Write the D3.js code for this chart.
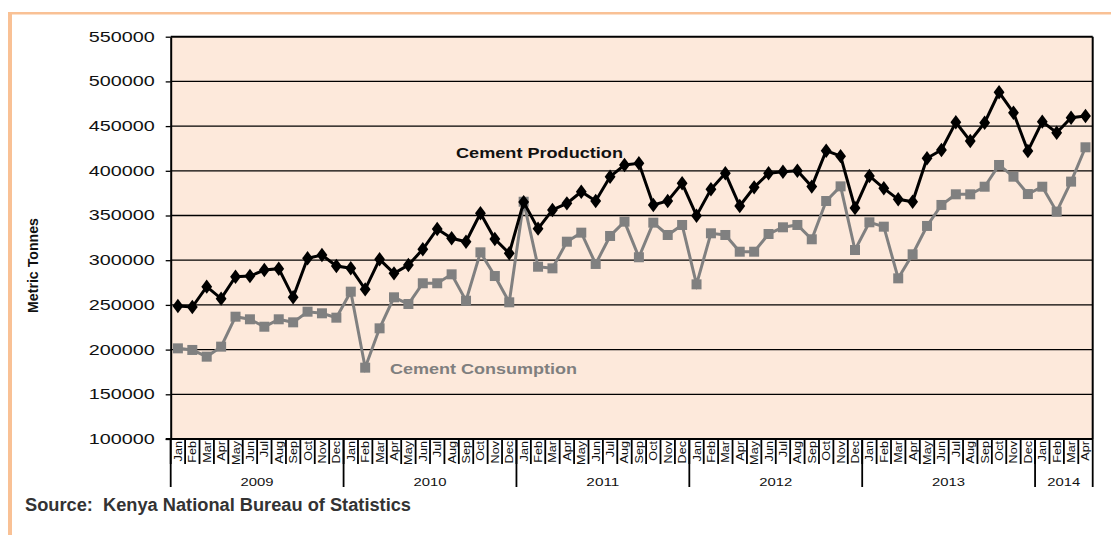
<!DOCTYPE html>
<html>
<head>
<meta charset="utf-8">
<script src="https://d3js.org/d3.v7.min.js"></script>
<style>
body { margin: 0; background: #fff; }
text { font-family: Arial, "Liberation Sans", sans-serif; }
</style>
</head>
<body>
<div id="plot"></div>
<script>

// chart data
var monthNames = ["Jan","Feb","Mar","Apr","May","Jun","Jul","Aug","Sep","Oct","Nov","Dec"];
var years = ["2009", "2010", "2011", "2012", "2013", "2014"];
var monthsPerYear = [12, 12, 12, 12, 12, 4];

var production = [
  248800, 247600, 270400, 257000, 281500, 282300, 289000, 290500, 258500, 302100, 305800, 293500,
  291000, 267400, 301000, 285300, 294600, 312200, 334900, 324500, 320700, 352500, 323700, 307700,
  365000, 335300, 356200, 363600, 376600, 366200, 393400, 406500, 408400, 361800, 366200, 386000,
  349800, 379300, 397200, 360600, 381500, 397200, 399000, 400100, 382300, 422500, 416400, 358400,
  394200, 380400, 368100, 365400, 414000, 423300, 454300, 433300, 453800, 487800, 465000, 422200,
  455000, 442600, 459400, 461300
];

var consumption = [
  201400, 199600, 192100, 203300, 236800, 233900, 225600, 233900, 230500, 242400, 240600, 235700,
  264800, 179800, 223800, 258500, 251000, 274200, 274200, 284200, 254700, 308800, 282300, 252900,
  365400, 292700, 290900, 320700, 330800, 295800, 327100, 343100, 303300, 342000, 328200, 339400,
  273000, 330100, 328200, 309500, 309500, 329300, 336800, 339400, 323400, 366200, 382600, 311400,
  342400, 337500, 279700, 306600, 338300, 361800, 373700, 373700, 382200, 406500, 393400, 374000,
  382200, 354300, 387900, 426300
];

var yTicks = [100000, 150000, 200000, 250000, 300000, 350000, 400000, 450000, 500000, 550000];

// build month list
var months = [];
years.forEach(function(yr, i){
  for (var m = 0; m < monthsPerYear[i]; m++) {
    months.push({idx: months.length, name: monthNames[m], year: yr});
  }
});

var W = 1111, H = 535;
var plotL = 170.7, plotR = 1092.7, plotT = 36.7, plotB = 439;

var svg = d3.select('#plot')
  .append('svg')
  .attr('width', W)
  .attr('height', H);

// orange frame
svg.append('rect').attr('x', 8).attr('y', 12).attr('width', 4).attr('height', H - 12).attr('fill', '#f9c195');
svg.append('rect').attr('x', 8).attr('y', 12).attr('width', W - 8).attr('height', 2.5).attr('fill', '#f9c195');

var x = d3.scaleBand()
  .domain(months.map(function(d){ return d.idx; }))
  .range([plotL, plotR]);

var y = d3.scaleLinear()
  .domain([100000, 550000])
  .range([plotB, plotT]);

// plot background
svg.append('rect')
  .attr('x', plotL).attr('y', plotT)
  .attr('width', plotR - plotL).attr('height', plotB - plotT)
  .attr('fill', '#fde9db');

// gridlines
svg.selectAll('.grid')
  .data(yTicks.slice(1, -1))
  .enter().append('line')
  .attr('class', 'grid')
  .attr('x1', plotL).attr('x2', plotR)
  .attr('y1', function(d){ return y(d); })
  .attr('y2', function(d){ return y(d); })
  .attr('stroke', '#000')
  .attr('stroke-width', 1.3);

// top and right border
svg.append('line').attr('x1', plotL).attr('x2', plotR).attr('y1', plotT).attr('y2', plotT)
  .attr('stroke', '#000').attr('stroke-width', 2);
svg.append('line').attr('x1', plotR).attr('x2', plotR).attr('y1', plotT).attr('y2', plotB)
  .attr('stroke', '#000').attr('stroke-width', 2);

// y axis
var yAxis = d3.axisLeft(y)
  .tickValues(yTicks)
  .tickSize(5)
  .tickSizeOuter(0)
  .tickPadding(11)
  .tickFormat(d3.format('d'));

var gy = svg.append('g')
  .attr('transform', 'translate(' + plotL + ',0)')
  .call(yAxis);
gy.select('.domain').attr('stroke-width', 2).attr('stroke', '#000');
gy.selectAll('.tick line').attr('stroke', '#000').attr('stroke-width', 1.3);
gy.selectAll('.tick text')
  .attr('fill', '#111')
  .style('font-size', '14px')
  .attr('textLength', 66)
  .attr('lengthAdjust', 'spacingAndGlyphs');

// x axis baseline
svg.append('line').attr('x1', plotL - 5).attr('x2', plotR).attr('y1', plotB).attr('y2', plotB)
  .attr('stroke', '#000').attr('stroke-width', 2);

// month separators
svg.selectAll('.msep')
  .data(months)
  .enter().append('line')
  .attr('class', 'msep')
  .attr('x1', function(d){ return x(d.idx); })
  .attr('x2', function(d){ return x(d.idx); })
  .attr('y1', plotB)
  .attr('y2', 464)
  .attr('stroke', '#000')
  .attr('stroke-width', 1.8);

// month labels
svg.selectAll('.mlab')
  .data(months)
  .enter().append('text')
  .attr('class', 'mlab')
  .attr('transform', function(d){
    return 'translate(' + (x(d.idx) + x.bandwidth() / 2 + 4) + ',441) rotate(-90) scale(1.15,1)';
  })
  .attr('text-anchor', 'end')
  .style('font-size', '11px')
  .attr('fill', '#111')
  .text(function(d){ return d.name; });

// year separators and labels
var yearStart = 0;
years.forEach(function(yr, i){
  var x0 = x(yearStart);
  var last = yearStart + monthsPerYear[i] - 1;
  var x1 = x(last) + x.bandwidth();
  svg.append('line').attr('x1', x0).attr('x2', x0).attr('y1', plotB).attr('y2', 487)
    .attr('stroke', '#000').attr('stroke-width', 1.8);
  svg.append('text')
    .attr('x', (x0 + x1) / 2)
    .attr('y', 486)
    .attr('text-anchor', 'middle')
    .style('font-size', '11.5px')
    .attr('textLength', 33)
    .attr('lengthAdjust', 'spacingAndGlyphs')
    .attr('fill', '#111')
    .text(yr);
  yearStart = last + 1;
});
svg.append('line').attr('x1', plotR).attr('x2', plotR).attr('y1', plotB).attr('y2', 487)
  .attr('stroke', '#000').attr('stroke-width', 1.8);

// lines
var line = d3.line()
  .x(function(d, i){ return x(i) + x.bandwidth() / 2; })
  .y(function(d){ return y(d); });

svg.append('path')
  .datum(consumption)
  .attr('d', line)
  .attr('fill', 'none')
  .attr('stroke', '#808080')
  .attr('stroke-width', 3);

svg.selectAll('.sq')
  .data(consumption)
  .enter().append('rect')
  .attr('class', 'sq')
  .attr('x', function(d, i){ return x(i) + x.bandwidth() / 2 - 5; })
  .attr('y', function(d){ return y(d) - 5; })
  .attr('width', 10)
  .attr('height', 10)
  .attr('fill', '#808080');

svg.append('path')
  .datum(production)
  .attr('d', line)
  .attr('fill', 'none')
  .attr('stroke', '#000')
  .attr('stroke-width', 3);

var diamond = d3.symbol().type(d3.symbolDiamond).size(60);
svg.selectAll('.dm')
  .data(production)
  .enter().append('path')
  .attr('class', 'dm')
  .attr('d', diamond)
  .attr('transform', function(d, i){
    return 'translate(' + (x(i) + x.bandwidth() / 2) + ',' + y(d) + ') scale(1.3,1)';
  })
  .attr('fill', '#000');

// series labels
svg.append('text')
  .attr('x', 456).attr('y', 157.5)
  .style('font-size', '15px').style('font-weight', 'bold')
  .attr('textLength', 167).attr('lengthAdjust', 'spacingAndGlyphs')
  .attr('fill', '#111')
  .text('Cement Production');

svg.append('text')
  .attr('x', 390).attr('y', 373.5)
  .style('font-size', '15px').style('font-weight', 'bold')
  .attr('textLength', 187).attr('lengthAdjust', 'spacingAndGlyphs')
  .attr('fill', '#7f7f7f')
  .text('Cement Consumption');

// y axis title
svg.append('text')
  .attr('transform', 'translate(38,265.5) rotate(-90)')
  .attr('text-anchor', 'middle')
  .style('font-size', '14px').style('font-weight', 'bold')
  .attr('textLength', 95).attr('lengthAdjust', 'spacingAndGlyphs')
  .attr('fill', '#111')
  .text('Metric Tonnes');

// source
svg.append('text')
  .attr('x', 25).attr('y', 510.5)
  .style('font-size', '18px').style('font-weight', 'bold')
  .attr('textLength', 386).attr('lengthAdjust', 'spacingAndGlyphs')
  .attr('fill', '#333')
  .attr('xml:space', 'preserve')
  .text('Source:  Kenya National Bureau of Statistics');

</script>
</body>
</html>
